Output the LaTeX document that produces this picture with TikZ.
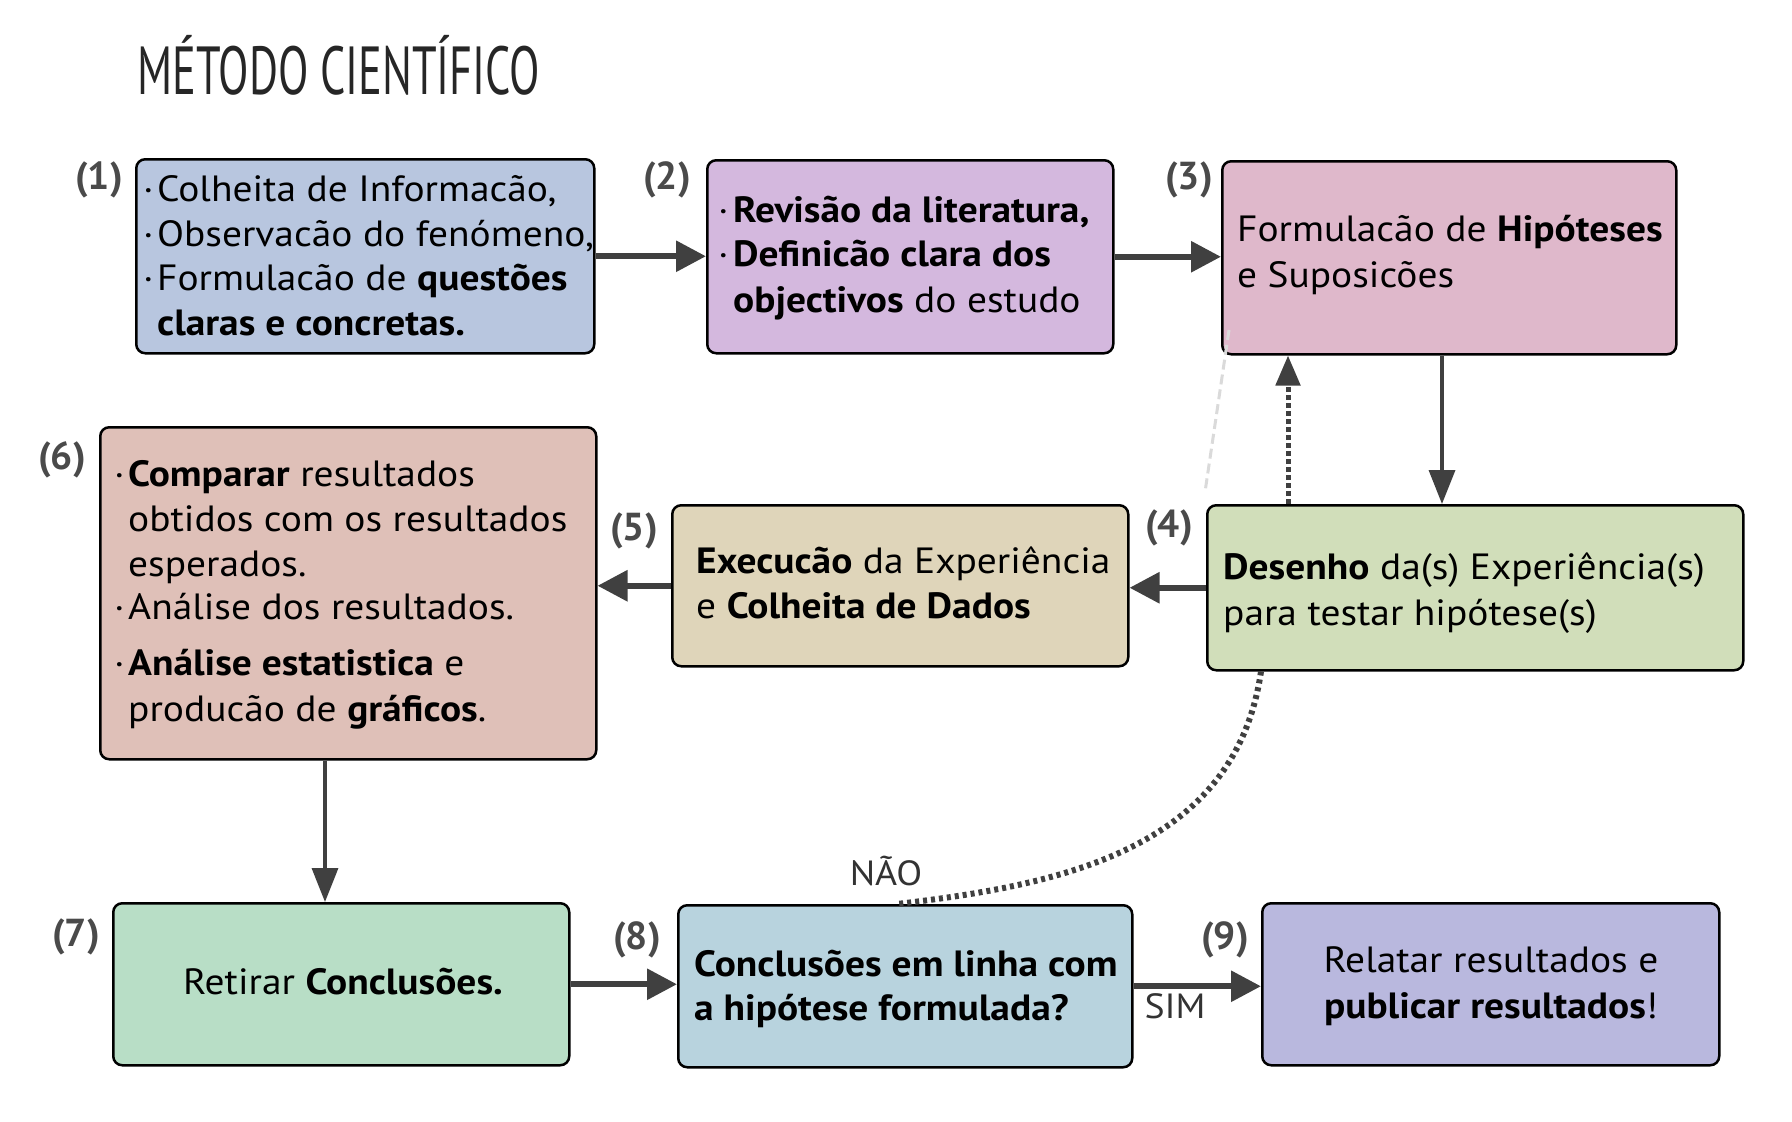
\documentclass[tikz,border=0pt]{standalone}
\usepackage{fontspec}
\setmainfont{PT Sans}
\newfontfamily\bodyfont{PT Sans}[FakeStretch=1.08]
\usetikzlibrary{arrows.meta}
\definecolor{c1}{HTML}{B8C6DF}
\definecolor{c2}{HTML}{D4B8DE}
\definecolor{c3}{HTML}{DFB8CB}
\definecolor{c4}{HTML}{D1DEBA}
\definecolor{c5}{HTML}{DFD5BA}
\definecolor{c6}{HTML}{DFC0B8}
\definecolor{c7}{HTML}{B8DEC6}
\definecolor{c8}{HTML}{B8D3DE}
\definecolor{c9}{HTML}{B9B8DE}
\definecolor{arrgray}{HTML}{404040}
\definecolor{numgray}{HTML}{4A4A4A}
\definecolor{ghost}{HTML}{DADADA}
\newcommand\mybul[1]{\makebox[#1][l]{·}}
\begin{document}
\begin{tikzpicture}[x=1pt,y=-1pt,
  box/.style={draw=black, line width=2.5pt, rounded corners=9pt, inner sep=0pt, anchor=north west},
  txt/.style={anchor=base west, inner sep=0pt, font=\bodyfont\fontsize{36.5}{44}\selectfont, text=black},
  ctxt/.style={txt, anchor=base},
  num/.style={font=\fontsize{39}{39}\selectfont\bfseries, text=numgray, inner sep=0pt},
  lbl/.style={font=\bodyfont\fontsize{35}{35}\selectfont, text=black!80, inner sep=0pt},
  thickarr/.style={line width=6pt, draw=arrgray, -{Triangle[length=30pt,width=30pt]}},
  thinarr/.style={line width=3.5pt, draw=arrgray, -{Triangle[length=34pt,width=26pt]}},
  dotarr/.style={line width=5pt, draw=arrgray, dash pattern=on 5pt off 3pt, -{Triangle[length=30pt,width=24pt]}},
  dotcurve/.style={line width=6pt, draw=arrgray, dash pattern=on 4pt off 4pt},
]
\useasboundingbox (0,0) rectangle (1792,1122);

% title
\node[anchor=base west, inner sep=0pt, text=black!85] (title) at (137,94)
  {\fontsize{68}{68}\selectfont\scalebox{0.653}[1]{MÉTODO CIENTÍFICO}};

% boxes
\node[box, fill=c1, minimum width=458pt, minimum height=194pt] (b1) at (135,158) {};
\node[box, fill=c2, minimum width=406pt, minimum height=193pt] (b2) at (706,159) {};
\node[box, fill=c3, minimum width=454pt, minimum height=193pt] (b3) at (1221,160) {};
\node[box, fill=c4, minimum width=536pt, minimum height=165pt] (b4) at (1206,504) {};
\node[box, fill=c5, minimum width=456pt, minimum height=161pt] (b5) at (671,504) {};
\node[box, fill=c6, minimum width=496pt, minimum height=332pt] (b6) at (99,426) {};
\node[box, fill=c7, minimum width=456pt, minimum height=162pt] (b7) at (112,902) {};
\node[box, fill=c8, minimum width=454pt, minimum height=162pt] (b8) at (677,904) {};
\node[box, fill=c9, minimum width=457pt, minimum height=162pt] (b9) at (1261,902) {};

% step numbers
\node[num] (n1) at (99,180) {(1)};
\node[num] (n2) at (667,180) {(2)};
\node[num] (n3) at (1189,180) {(3)};
\node[num] (n4) at (1169,528) {(4)};
\node[num] (n5) at (634,531) {(5)};
\node[num] (n6) at (62,460) {(6)};
\node[num] (n7) at (76,937) {(7)};
\node[num] (n8) at (637,940) {(8)};
\node[num] (n9) at (1225,940) {(9)};

% texts
\node[txt] (t1a) at (143,201) {\mybul{14pt}Colheita de Informacão,};
\node[txt] (t1b) at (143,246) {\mybul{14pt}Observacão do fenómeno,};
\node[txt] (t1c) at (143,290) {\mybul{14pt}Formulacão de \textbf{questões}};
\node[txt] (t1d) at (157,335) {\textbf{claras e concretas.}};

\node[txt] (t2a) at (718,222) {\mybul{15pt}\textbf{Revisão da literatura,}};
\node[txt] (t2b) at (718,266) {\mybul{15pt}\textbf{Definicão clara dos}};
\node[txt] (t2c) at (733,312) {\textbf{objectivos} do estudo};

\node[txt] (t3a) at (1237,241) {Formulacão de \textbf{Hipóteses}};
\node[txt] (t3b) at (1237,287) {e Suposicões};

\node[txt] (t4a) at (1223,579) {\textbf{Desenho} da(s) Experiência(s)};
\node[txt] (t4b) at (1223,625) {para testar hipótese(s)};

\node[txt] (t5a) at (696,573) {\textbf{Execucão} da Experiência};
\node[txt] (t5b) at (696,618) {e \textbf{Colheita de Dados}};

\node[txt] (t6a) at (114,486) {\mybul{14pt}\textbf{Comparar} resultados};
\node[txt] (t6b) at (128,531) {obtidos com os resultados};
\node[txt] (t6c) at (128,576) {esperados.};
\node[txt] (t6d) at (114,619) {\mybul{14pt}Análise dos resultados.};
\node[txt] (t6e) at (114,675) {\mybul{14pt}\textbf{Análise estatistica} e};
\node[txt] (t6f) at (128,721) {producão de \textbf{gráficos}.};

\node[ctxt] (t7) at (343,994) {Retirar \textbf{Conclusões.}};

\node[txt] (t8a) at (694,976) {\textbf{Conclusões em linha com}};
\node[txt] (t8b) at (694,1020) {\textbf{a hipótese formulada?}};

\node[ctxt] (t9a) at (1491,972) {Relatar resultados e};
\node[ctxt] (t9b) at (1491,1018) {\textbf{publicar resultados}!};

% helper coordinates
\coordinate (c34) at (1442,0);
\coordinate (c43) at (1288,0);
\coordinate (c67) at (325,0);
\coordinate (c4s) at (1261,0);
\coordinate (c8n) at (897,0);
\coordinate (g1) at (1229,330);
\coordinate (g2) at (1205,492);

% faint dashed line
\draw[ghost, line width=3pt, dash pattern=on 10pt off 5pt] (g1) -- (g2);

% connectors
\draw[thickarr] (b1.east) -- (b1.east -| b2.west);
\draw[thickarr] (b2.east) -- (b2.east -| b3.west);
\draw[thinarr] (c34 |- b3.south) -- (c34 |- b4.north);
\draw[thickarr] (b4.west) -- (b4.west -| b5.east);
\draw[thickarr] (b5.west) -- (b5.west -| b6.east);
\draw[thinarr] (c67 |- b6.south) -- (c67 |- b7.north);
\draw[thickarr] (b7.east) -- (b7.east -| b8.west);
\draw[thickarr] (b8.east) -- (b8.east -| b9.west);
\draw[dotarr] (c43 |- b4.north) -- (c43 |- b3.south);
\draw[dotcurve] (c4s |- b4.south) .. controls (1235,850) and (1060,885) .. (c8n |- b8.north);

% branch labels
\node[lbl] (nao) at (886,871) {NÃO};
\node[lbl] (sim) at (1175,1006) {SIM};
\end{tikzpicture}
\end{document}
